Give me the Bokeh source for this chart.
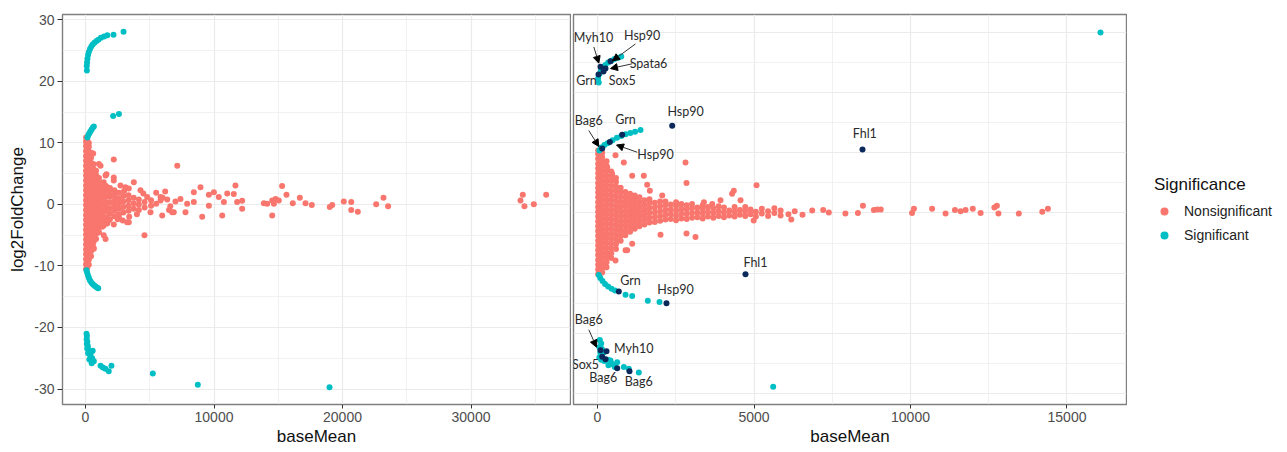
from bokeh.plotting import figure
from bokeh.layouts import row
from bokeh.models import (ColumnDataSource, FixedTicker, Range1d, Arrow, NormalHead,
                          Legend, LegendItem)
from bokeh.core.properties import value
from bokeh.embed import file_html
from bokeh.resources import INLINE

SALMON = "#F8766D"
TEAL = "#00BFC4"
NAVY = "#0B2A5B"

# ---------------- LEFT PANEL DATA ----------------
# dense non-significant cloud: baseMean column -> log2FoldChange values
left_cloud = {
    40: [-10.5, -9.7, -8.9, -8.1, -7.3, -6.5, -5.7, -4.9, -4.1, -3.3, -2.5, -1.7, -0.9, -0.1,
         0.7, 1.5, 2.3, 3.1, 3.9, 4.7, 5.5, 6.3, 7.1, 7.9, 8.7, 9.5, 10.2, 10.9],
    130: [-10.3, -9.5, -8.7, -7.9, -7.1, -6.3, -5.5, -4.7, -3.9, -3.1, -2.3, -1.5, -0.7, 0.1,
          0.9, 1.7, 2.5, 3.3, 4.1, 4.9, 5.7, 6.5, 7.3, 8.1, 8.9, 9.7, 10.5],
    260: [-9.8, -9.0, -8.2, -7.4, -6.6, -5.8, -5.0, -4.2, -3.4, -2.6, -1.8, -1.0, -0.2, 0.6,
          1.4, 2.2, 3.0, 3.8, 4.6, 5.4, 6.2, 7.0, 7.8, 8.6, 9.4, 10.0],
    430: [-8.4, -7.6, -6.8, -6.0, -5.2, -4.4, -3.6, -2.8, -2.0, -1.2, -0.4, 0.4, 1.2, 2.0,
          2.8, 3.6, 4.4, 5.2, 6.0, 6.8, 7.6, 8.4],
    620: [-7.0, -6.2, -5.4, -4.6, -3.8, -3.0, -2.2, -1.4, -0.6, 0.2, 1.0, 1.8, 2.6, 3.4, 4.2,
          5.0, 5.8, 6.6],
    820: [-5.6, -4.8, -4.0, -3.2, -2.4, -1.6, -0.8, 0.0, 0.8, 1.6, 2.4, 3.2, 4.0, 4.8, 5.5],
    1050: [-4.5, -3.7, -2.9, -2.1, -1.3, -0.5, 0.3, 1.1, 1.9, 2.7, 3.5, 4.3],
    1300: [-3.6, -2.7, -1.8, -0.9, 0.0, 0.9, 1.8, 2.7, 3.5],
    1600: [-3.0, -2.1, -1.2, -0.4, 0.4, 1.3, 2.2, 3.0],
    1900: [-2.4, -1.5, -0.6, 0.3, 1.2, 2.0, 2.7],
    2250: [-1.9, -1.0, -0.2, 0.6, 1.5, 2.3],
    2600: [-1.6, -0.7, 0.2, 1.0, 1.9],
    2950: [-1.3, -0.4, 0.5, 1.4],
    3350: [-1.0, -0.2, 0.7, 1.5],
    3750: [-0.7, 0.2, 1.1],
    4150: [-0.9, 0.0, 0.8],
    4600: [-0.5, 0.4],
    5100: [-0.2, 0.7],
}
left_ns_extra_x = [600, 1040, 2200, 7140, 1630, 2200, 1420, 2720, 3370, 3760, 4280, 4800, 5840,
                   6360, 7390, 8430, 8950, 9990, 11030, 11670, 11540, 11800, 12190, 12190, 10770,
                   10640, 10370, 9600, 9600, 9080, 8430, 7910, 7780, 6870, 5970, 5060, 5500, 6600,
                   7000, 4590, 1690, 2200, 3240, 1420, 1560, 650, 1170, 1560, 2200, 3110, 3370,
                   2600, 1810, 1420, 5840, 6740, 2500, 3000, 4000, 4500, 3400, 2900, 5500, 6000,
                   6500, 6200, 13880, 14140, 14530, 14660, 14790, 14530, 15040, 15300, 15640,
                   16130, 16680, 17120, 17610, 19010, 19200, 20100, 20680, 20680, 21190, 22620,
                   23190, 23550, 33850, 34030, 34160, 34890, 35850]
left_ns_extra_y = [8.3, 6.6, 7.3, 6.3, 4.9, 4.4, 3.6, 3.1, 2.6, 3.6, 2.3, 1.2, 0.65,
                   0.8, 0.9, 2.0, 2.8, 2.0, 1.8, 3.1, 1.7, 0.4, 0.6, -0.7, 0.4,
                   -1.8, 1.2, 1.6, -0.2, -2.0, 0.4, 0.1, -1.25, -1.25, -1.8, -1.25, 0.1, -0.3,
                   0.5, -5.0, -3.1, -3.25, -2.9, -5.0, -5.6, -7.2, 6.3, 4.7, 3.9, 2.8, -2.9,
                   -2.1, -2.6, -3.4, 1.2, -1.25, -2.4, 2.2, -1.6, 1.8, -2.0, -2.6, 1.9, 1.1,
                   -0.9, 2.1, 0.2, 0.1, 0.65, 0.1, 0.9, -1.8, 0.65, 3.0, 1.6,
                   0.2, 1.1, 0.2, -0.1, -0.4, -0.1, 0.5, 0.4, -0.9, -1.2, 0.05,
                   1.1, -0.3, 0.65, 1.6, -0.3, 0.05, 1.6]

left_sig_x = [110, 100, 120, 150, 200, 260, 350, 450, 560, 700, 850, 1000, 1200, 1450, 1700, 2180, 2960,
              150, 220, 300, 390, 480, 570, 650, 2150, 2600,
              80, 130, 190, 260, 340, 430, 530, 640, 760, 880, 990,
              80, 110, 90, 140, 100, 180, 130, 240, 320, 200, 450, 560, 380, 520, 300, 650, 480,
              1170, 1350, 1550, 1810, 2020, 5240, 8740, 18990]
left_sig_y = [21.8, 22.5, 23.1, 23.7, 24.3, 24.8, 25.3, 25.7, 26.0, 26.3, 26.6, 26.8, 27.1, 27.3, 27.5, 27.6, 28.1,
              10.9, 11.3, 11.6, 11.9, 12.2, 12.5, 12.7, 14.4, 14.7,
              -10.7, -11.1, -11.5, -11.9, -12.3, -12.6, -12.9, -13.1, -13.3, -13.5, -13.6,
              -21.0, -21.4, -21.9, -22.3, -22.7, -23.0, -23.4, -23.6, -23.9, -24.2, -24.0, -23.8, -24.6, -25.0, -25.2, -25.5, -25.8,
              -26.2, -26.5, -26.7, -27.1, -26.2, -27.5, -29.3, -29.7]

# ---------------- RIGHT PANEL DATA ----------------
right_cloud = {
    20: [-10.2, -9.4, -8.6, -7.8, -7.0, -6.2, -5.4, -4.6, -3.8, -3.0, -2.2, -1.4, -0.6, 0.2, 1.0,
         1.8, 2.6, 3.4, 4.2, 5.0, 5.8, 6.6, 7.4, 8.2, 9.0, 9.8, 10.4],
    150: [-9.9, -9.1, -8.3, -7.5, -6.7, -5.9, -5.1, -4.3, -3.5, -2.7, -1.9, -1.1, -0.3, 0.5, 1.3,
          2.1, 2.9, 3.7, 4.5, 5.3, 6.1, 6.9, 7.7, 8.5, 9.3, 10.0],
    290: [-9.0, -8.2, -7.4, -6.6, -5.8, -5.0, -4.2, -3.4, -2.6, -1.8, -1.0, -0.2, 0.6, 1.4, 2.2,
          3.0, 3.8, 4.6, 5.4, 6.2, 7.0, 7.8, 8.6],
    440: [-7.5, -6.7, -5.9, -5.1, -4.3, -3.5, -2.7, -1.9, -1.1, -0.3, 0.5, 1.3, 2.1, 2.9, 3.7,
          4.5, 5.3, 6.1, 6.9],
    590: [-6.0, -5.2, -4.4, -3.6, -2.8, -2.0, -1.2, -0.4, 0.4, 1.2, 2.0, 2.8, 3.6, 4.4, 5.2, 5.8],
    740: [-4.6, -3.8, -3.0, -2.2, -1.4, -0.6, 0.2, 1.0, 1.8, 2.6, 3.4, 4.2],
    890: [-3.7, -2.9, -2.1, -1.3, -0.5, 0.3, 1.1, 1.9, 2.7, 3.5],
    1040: [-3.1, -2.3, -1.5, -0.7, 0.1, 0.9, 1.7, 2.5, 3.2],
    1190: [-2.6, -1.8, -1.0, -0.2, 0.6, 1.4, 2.2, 2.9],
    1340: [-2.2, -1.4, -0.6, 0.2, 1.0, 1.8, 2.6],
    1500: [-1.9, -1.1, -0.3, 0.5, 1.3, 2.1],
    1660: [-1.6, -0.8, 0.0, 0.8, 1.6, 2.3],
    1830: [-1.5, -0.7, 0.1, 0.9, 1.7],
    2000: [-1.3, -0.5, 0.3, 1.1, 1.9],
    2170: [-1.1, -0.3, 0.5, 1.3, 1.9],
    2340: [-1.0, -0.2, 0.6, 1.4],
    2510: [-1.2, -0.4, 0.4, 1.2, 1.8],
    2680: [-0.9, -0.1, 0.7, 1.5],
    2850: [-1.0, -0.2, 0.6, 1.3],
    3020: [-0.8, 0.0, 0.8, 1.5],
    3190: [-0.7, 0.1, 0.9],
    3360: [-0.9, -0.1, 0.7, 1.3],
    3530: [-0.6, 0.2, 1.0],
    3700: [-0.8, 0.0, 0.8],
    3870: [-0.5, 0.3, 1.1],
    4040: [-0.7, 0.1, 0.9],
    4210: [-0.4, 0.4],
    4380: [-0.6, 0.2, 1.0],
    4550: [-0.3, 0.5],
    4720: [-0.5, 0.3, 1.0],
    4890: [-0.2, 0.6],
    5060: [-0.6, 0.2],
    5250: [-0.1, 0.7],
    5450: [-0.5, 0.3],
    5650: [0.0, 0.8],
    5850: [-0.4, 0.4],
    6100: [-0.2],
    6300: [0.3],
    6550: [-0.3],
}
right_ns_extra_x = [2812, 2843, 840, 1108, 1480, 1587, 1672, 2067, 2843, 3131, 2013, 1108, 895,
                    575, 575, 470, 310, 5080, 6190, 6860, 7210, 7390, 7920, 8320, 8480, 8830,
                    8940, 9050, 10050, 10110, 10690, 11120, 11420, 11600, 11760, 11990, 12240,
                    12680, 12760, 12810, 13460, 14210, 14390, 4355, 3665, 3930, 4300, 4570,
                    4990, 3400, 790, 310, 256, 948]
right_ns_extra_y = [8.4, 5.0, 8.4, 6.2, 6.2, 4.7, 3.7, 2.9, -3.4, -4.0, -3.6, -5.1, -6.2,
                    -7.9, 9.6, 6.5, 7.6, 4.6, -1.1, 0.4, 0.5, 0.1, -0.1, 0.0, 1.2, 0.5,
                    0.6, 0.6, 0.0, 0.7, 0.7, -0.1, 0.5, 0.3, 0.5, 0.7, 0.0,
                    0.9, 1.2, -0.1, -0.1, 0.2, 0.7, 3.7, 1.5, 2.1, 3.2, 2.1,
                    -1.25, 1.8, -3.5, -7.1, -9.0, -6.2]

right_sig_x = [40, 20, 60, 110, 170, 250, 340, 440, 540, 650, 760, 16070,
               60, 120, 220, 320, 480, 620, 760, 900, 1050, 1200, 1374,
               40, 90, 160, 240, 340, 450, 560, 895, 1108, 1607, 1981,
               73, 118, 60, 140, 90, 200, 60, 120, 220, 330, 415, 470, 629, 840, 1000, 1320,
               350, 550, 5613]
right_sig_y = [21.7, 22.4, 23.1, 23.7, 24.2, 24.6, 25.0, 25.3, 25.6, 25.8, 26.0, 30.0,
               10.4, 10.9, 11.3, 11.6, 12.1, 12.5, 12.8, 13.1, 13.3, 13.5, 13.8,
               -10.3, -10.8, -11.3, -11.8, -12.2, -12.6, -12.9, -13.6, -13.8, -14.6, -14.8,
               -21.1, -21.7, -22.3, -22.6, -23.2, -23.2, -24.0, -24.4, -24.6, -24.4, -24.5, -25.1, -24.8, -25.6, -25.9, -26.5,
               -25.3, -25.6, -28.9]

right_hl_x = [96, 415, 256, 32, 192, 150, 393, 789, 2386, 8466, 4728, 681, 2204,
              96, 288, 150, 256, 629, 1022]
right_hl_y = [24.3, 25.2, 24.0, 23.0, 23.5, 10.7, 11.8, 13.0, 14.5, 10.55, -10.2, -13.05, -15.0,
              -22.8, -23.0, -23.9, -24.3, -25.8, -26.3]

label_text = ["Myh10", "Hsp90", "Spata6", "Grn", "Sox5", "Bag6", "Grn", "Hsp90", "Hsp90",
              "Fhl1", "Fhl1", "Grn", "Hsp90", "Bag6", "Myh10", "Sox5", "Bag6", "Bag6"]
label_x = [-128, 1428, 1629, -351, 789, -278, 895, 2812, 1853, 8540, 5048, 1054, 2492, -278,
           1160, -383, 182, 1320]
label_y = [29.2, 29.5, 24.9, 22.0, 22.0, 15.4, 15.5, 16.9, 9.8, 13.2, -8.2, -11.3, -12.7, -17.7,
           -22.6, -25.1, -27.3, -28.0]

arrow_x0 = [-118, 1214, 1109, -278, 1268, -278]
arrow_y0 = [27.6, 28.1, 24.8, 13.7, 10.1, -19.4]
arrow_x1 = [42, 479, 415, 42, 607, -32]
arrow_y1 = [24.9, 25.3, 24.0, 11.05, 11.3, -22.3]

left_xticks = [0, 10000, 20000, 30000]
left_xminor = [5000, 15000, 25000, 35000]
right_xticks = [0, 5000, 10000, 15000]
right_xminor = [2500, 7500, 12500]
yticks = [-30, -20, -10, 0, 10, 20, 30]
yminor = [-25, -15, -5, 5, 15, 25]


def flatten(cloud, ex, ey):
    xs, ys = [], []
    for k, vals in cloud.items():
        for v in vals:
            xs.append(k)
            ys.append(v)
    return xs + ex, ys + ey


FONT = "Liberation Sans"
GRID = "#EBEBEB"


def style(p, xt, xm, yt, ym, has_y):
    p.outline_line_color = "#7F7F7F"
    p.outline_line_width = 1.4
    p.xgrid.ticker = FixedTicker(ticks=xt, minor_ticks=xm)
    p.ygrid.ticker = FixedTicker(ticks=yt, minor_ticks=ym)
    for g in (p.xgrid, p.ygrid):
        g.grid_line_color = GRID
        g.grid_line_width = 1.2
        g.minor_grid_line_color = GRID
        g.minor_grid_line_width = 0.7
    axes = [p.xaxis[0]] + ([p.yaxis[0]] if has_y else [])
    for ax in axes:
        ax.axis_line_color = None
        ax.major_tick_line_color = "#333333"
        ax.major_tick_out = 4
        ax.major_tick_in = 0
        ax.minor_tick_line_color = None
        ax.major_label_text_font = FONT
        ax.major_label_text_font_size = "14px"
        ax.major_label_text_color = "#4D4D4D"
        ax.axis_label_text_font = FONT
        ax.axis_label_text_font_size = "17px"
        ax.axis_label_text_font_style = "normal"
        ax.axis_label_text_color = "#111111"
    p.xaxis.ticker = FixedTicker(ticks=xt, minor_ticks=xm)
    p.xaxis.major_label_overrides = {t: str(t) for t in xt}
    p.xaxis.major_label_standoff = 3
    p.xaxis.axis_label_standoff = 2
    p.xaxis.axis_label = "baseMean"
    if has_y:
        p.yaxis.ticker = FixedTicker(ticks=yt, minor_ticks=ym)
        p.yaxis.major_label_overrides = {t: str(t) for t in yt}
        p.yaxis.major_tick_out = 5
        p.yaxis.major_label_standoff = 3
        p.yaxis.axis_label_standoff = 4
        p.yaxis.axis_label = "log2FoldChange"


# ---------- left figure ----------
p1 = figure(frame_width=508, frame_height=390, min_border_left=62, min_border_right=1,
            min_border_top=14, min_border_bottom=48,
            x_range=Range1d(-1790, 37743), y_range=Range1d(-32.52, 30.89),
            output_backend="svg", toolbar_location=None)
style(p1, left_xticks, left_xminor, yticks, yminor, True)
lx, ly = flatten(left_cloud, left_ns_extra_x, left_ns_extra_y)
p1.scatter(lx, ly, size=6, color=SALMON, line_color=None)
p1.scatter(left_sig_x, left_sig_y, size=6, color=TEAL, line_color=None)

# ---------- right figure ----------
p2 = figure(frame_width=553, frame_height=390, min_border_left=2, min_border_right=1,
            min_border_top=14, min_border_bottom=48, y_axis_location=None,
            x_range=Range1d(-767, 16901), y_range=Range1d(-31.83, 32.99),
            output_backend="svg", toolbar_location=None)
style(p2, right_xticks, right_xminor, yticks, yminor, False)
rx, ry = flatten(right_cloud, right_ns_extra_x, right_ns_extra_y)
p2.scatter(rx, ry, size=6, color=SALMON, line_color=None)
p2.scatter(right_sig_x, right_sig_y, size=6, color=TEAL, line_color=None)
p2.scatter(right_hl_x, right_hl_y, size=6, color=NAVY, line_color=None)

asrc = ColumnDataSource(dict(x0=arrow_x0, y0=arrow_y0, x1=arrow_x1, y1=arrow_y1))
p2.add_layout(Arrow(end=NormalHead(size=7, fill_color="black", line_color="black", line_width=1),
                    x_start="x0", y_start="y0", x_end="x1", y_end="y1", source=asrc,
                    line_color="#333333", line_width=1))
lsrc = ColumnDataSource(dict(x=label_x, y=label_y, t=label_text))
p2.text(x="x", y="y", text="t", source=lsrc, text_font=value("Lato"),
        text_font_size=value("12.5px"), text_align="center", text_baseline="middle",
        text_color="#2b2b2b")

# ---------- legend ----------
legend_labels = ["Nonsignificant", "Significant"]
legend_colors = [SALMON, TEAL]
p3 = figure(width=160, height=452, min_border=0, x_axis_location=None, y_axis_location=None,
            x_range=Range1d(0, 1), y_range=Range1d(0, 1), outline_line_color=None,
            output_backend="svg", toolbar_location=None)
p3.xgrid.visible = False
p3.ygrid.visible = False
items = []
for lab, col in zip(legend_labels, legend_colors):
    r = p3.scatter([-5], [-5], size=5, color=col, line_color=None)
    items.append(LegendItem(label=lab, renderers=[r]))
leg = Legend(items=items, title="Significance", location=(27, 159), margin=0, padding=9,
             glyph_width=20, glyph_height=20, label_height=20, spacing=4,
             label_standoff=10, title_standoff=6,
             border_line_color=None, background_fill_alpha=0)
leg.title_text_font = FONT
leg.title_text_font_size = "17px"
leg.title_text_font_style = "normal"
leg.title_text_color = "#111111"
leg.label_text_font = FONT
leg.label_text_font_size = "14px"
leg.label_text_color = "#222222"
p3.add_layout(leg)

layout = row(p1, p2, p3)
open("out.html", "w").write(file_html(layout, INLINE))
